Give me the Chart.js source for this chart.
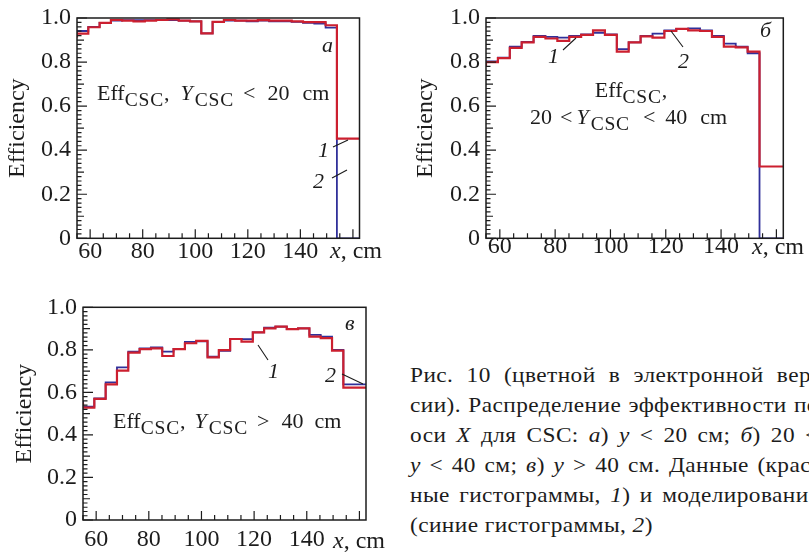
<!DOCTYPE html>
<html lang="ru">
<head>
<meta charset="UTF-8">
<title>Эффективность CSC</title>
<script src="https://cdn.jsdelivr.net/npm/chart.js"></script>
<style>
  body {
    margin: 0;
    width: 809px;
    height: 552px;
    overflow: hidden;
    position: relative;
    background: #fff;
    color: #1c1c1c;
    font-family: "Liberation Serif", "DejaVu Serif", serif;
  }
  canvas { position: absolute; }
  .note {
    position: absolute;
    font-size: 22px;
    line-height: 22px;
    white-space: nowrap;
  }
  .note sub {
    font-size: 19.5px;
    letter-spacing: 0.8px;
    vertical-align: baseline;
    position: relative;
    top: 6px;
  }
  .sp { display: inline-block; }
  .axt { font-size: 24px; line-height: 24px; }
  .caption {
    position: absolute;
    left: 410px;
    top: 360px;
    font-size: 22px;
    line-height: 30px;
    letter-spacing: 0.4px;
    white-space: nowrap;
    transform: scaleX(1.06);
    transform-origin: 0 0;
  }
</style>
</head>
<body>
<canvas id="panelA" width="400" height="270" style="left:0;top:0"></canvas>
<canvas id="panelB" width="409" height="270" style="left:400px;top:0"></canvas>
<canvas id="panelC" width="400" height="272" style="left:0;top:280px"></canvas>

<!-- panel a -->
<div class="note" style="left:97px;top:82px">Eff<sub>CSC</sub>,<span class="sp" style="width:11px"></span><i>Y</i><span class="sp" style="width:2px"></span><sub>CSC</sub><span class="sp" style="width:9px"></span>&lt;<span class="sp" style="width:12px"></span>20<span class="sp" style="width:13px"></span>cm</div>
<div class="note" style="left:322px;top:34px"><i>а</i></div>
<div class="note" style="left:318px;top:139px"><i>1</i></div>
<div class="note" style="left:313px;top:170px"><i>2</i></div>
<div class="note axt" style="left:330px;top:238px"><i>x</i>, cm</div>

<!-- panel b -->
<div class="note" style="left:631px;top:79px;transform:translateX(-50%)">Eff<sub>CSC</sub>,</div>
<div class="note" style="left:530px;top:106px">20<span class="sp" style="width:8px"></span>&lt;<span class="sp" style="width:4px"></span><i>Y</i><span class="sp" style="width:2px"></span><sub>CSC</sub><span class="sp" style="width:13px"></span>&lt;<span class="sp" style="width:10px"></span>40<span class="sp" style="width:13px"></span>cm</div>
<div class="note" style="left:760px;top:19px"><i>б</i></div>
<div class="note" style="left:548px;top:45px"><i>1</i></div>
<div class="note" style="left:678px;top:50px"><i>2</i></div>
<div class="note axt" style="left:752px;top:234px"><i>x</i>, cm</div>

<!-- panel c -->
<div class="note" style="left:113px;top:410px">Eff<sub>CSC</sub>,<span class="sp" style="width:9px"></span><i>Y</i><span class="sp" style="width:2px"></span><sub>CSC</sub><span class="sp" style="width:9px"></span>&gt;<span class="sp" style="width:12px"></span>40<span class="sp" style="width:11px"></span>cm</div>
<div class="note" style="left:345px;top:312px"><i>в</i></div>
<div class="note" style="left:268px;top:360px"><i>1</i></div>
<div class="note" style="left:325px;top:364px"><i>2</i></div>
<div class="note axt" style="left:333px;top:528px"><i>x</i>, cm</div>

<div class="caption">
  <div class="j"><span>Рис. 10 (цветной в электронной вер-</span></div>
  <div class="j"><span>сии). Распределение эффективности по</span></div>
  <div class="j"><span>оси <i>X</i> для CSC: <i>а</i>) <i>y</i> &lt; 20 см; <i>б</i>) 20 &lt;</span></div>
  <div class="j"><span><i>y</i> &lt; 40 см; <i>в</i>) <i>y</i> &gt; 40 см. Данные (крас-</span></div>
  <div class="j"><span>ные гистограммы, <i>1</i>) и моделирование</span></div>
  <div><span>(синие гистограммы, <i>2</i>)</span></div>
</div>

<script>
// bin edges along x, cm (25 bins)
const binEdges = [55, 59.3, 63.6, 67.9, 72.2, 76.5, 80.8, 85.1, 89.4, 93.7, 98, 102.3, 106.6,
  110.9, 115.2, 119.5, 123.8, 128.1, 132.4, 136.7, 141, 145.3, 149.6, 153.9, 158.2, 162.5];
const xTicks = [60, 80, 100, 120, 140];
const yTicks = [0, 0.2, 0.4, 0.6, 0.8, 1.0];

// а) Y < 20 cm
const dataA = [0.911, 0.929, 0.958, 0.978, 0.991, 0.988, 0.985, 0.988, 0.991, 0.994, 0.988, 0.985, 0.930,
  0.982, 0.991, 0.988, 0.988, 0.990, 0.988, 0.988, 0.985, 0.981, 0.981, 0.967, 0.452];
const simA = [0.921, 0.941, 0.960, 0.978, 0.988, 0.990, 0.990, 0.990, 0.991, 0.991, 0.988, 0.985, 0.930,
  0.981, 0.988, 0.988, 0.985, 0.988, 0.985, 0.985, 0.982, 0.978, 0.975, 0.956, 0.0];

// б) 20 < Y < 40 cm
const dataB = [0.778, 0.800, 0.818, 0.864, 0.889, 0.914, 0.907, 0.896, 0.914, 0.923, 0.944, 0.923, 0.847,
  0.889, 0.917, 0.911, 0.941, 0.951, 0.944, 0.941, 0.914, 0.870, 0.867, 0.847, 0.326];
const simB = [0.781, 0.803, 0.820, 0.870, 0.892, 0.919, 0.914, 0.911, 0.919, 0.926, 0.933, 0.926, 0.859,
  0.889, 0.919, 0.929, 0.944, 0.951, 0.953, 0.944, 0.919, 0.884, 0.870, 0.840, 0.0];

// в) Y > 40 cm
const dataC = [0.553, 0.528, 0.569, 0.638, 0.702, 0.787, 0.803, 0.807, 0.771, 0.803, 0.831, 0.842, 0.765,
  0.799, 0.851, 0.839, 0.882, 0.901, 0.909, 0.897, 0.901, 0.862, 0.855, 0.796, 0.622];
const simC = [0.561, 0.533, 0.572, 0.647, 0.718, 0.792, 0.807, 0.812, 0.792, 0.805, 0.837, 0.840, 0.768,
  0.795, 0.851, 0.850, 0.882, 0.904, 0.909, 0.897, 0.901, 0.870, 0.862, 0.800, 0.638];

const RED = '#cc1f2f';
const BLUE = '#30309a';
const INK = '#1c1c1c';
const tickFont = { family: '"Liberation Serif", "DejaVu Serif", serif', size: 24, lineHeight: 1 };

// histogram as step line: one point per bin low edge + closing point
function steps(vals) {
  const pts = vals.map((v, i) => ({ x: binEdges[i], y: v }));
  pts.push({ x: binEdges[binEdges.length - 1], y: vals[vals.length - 1] });
  return pts;
}

// frame around plot + inward ticks (ROOT style) + leader lines for labels 1, 2
const framePlugin = {
  id: 'frame',
  afterDraw(chart, args, opts) {
    const { ctx, chartArea: a, scales: { x, y } } = chart;
    ctx.save();
    ctx.strokeStyle = INK;
    ctx.lineWidth = 1.2;
    ctx.beginPath();
    for (let v = 55; v <= 160; v += 5) {
      const px = x.getPixelForValue(v);
      const len = v % 20 === 0 ? 9 : 5;
      ctx.moveTo(px, a.bottom);
      ctx.lineTo(px, a.bottom - len);
    }
    for (let k = 0; k <= 50; k++) {
      const py = y.getPixelForValue(k / 50);
      const len = k % 10 === 0 ? 10 : (k % 5 === 0 ? 7 : 4.5);
      ctx.moveTo(a.left, py);
      ctx.lineTo(a.left + len, py);
    }
    ctx.stroke();
    ctx.lineWidth = 1.5;
    ctx.strokeRect(a.left, a.top, a.right - a.left, a.bottom - a.top);
    ctx.lineWidth = 1.1;
    ctx.beginPath();
    (opts.leaders || []).forEach(l => {
      ctx.moveTo(l[0], l[1]);
      ctx.lineTo(l[2], l[3]);
    });
    ctx.stroke();
    ctx.restore();
  }
};

function makePanel(id, red, blue, box) {
  new Chart(document.getElementById(id), {
    type: 'line',
    data: {
      datasets: [
        { label: 'Данные', data: steps(red), borderColor: RED, borderWidth: 2.2,
          stepped: 'after', pointRadius: 0, fill: false },
        { label: 'Моделирование', data: steps(blue), borderColor: BLUE, borderWidth: 1.8,
          stepped: 'after', pointRadius: 0, fill: false }
      ]
    },
    options: {
      responsive: false,
      animation: false,
      layout: { padding: { top: box.top, right: box.right, left: 0, bottom: 0 } },
      plugins: {
        legend: { display: false },
        tooltip: { enabled: false },
        frame: { leaders: box.leaders }
      },
      scales: {
        x: {
          type: 'linear',
          min: 55,
          max: 162.5,
          grid: { display: false, drawTicks: false },
          border: { display: false },
          afterBuildTicks: s => { s.ticks = xTicks.map(v => ({ value: v })); },
          afterFit: s => { s.height = box.xh; },
          ticks: { font: tickFont, color: INK, padding: box.xpad, maxRotation: 0, autoSkip: false }
        },
        y: {
          min: 0,
          max: 1,
          grid: { display: false, drawTicks: false },
          border: { display: false },
          afterBuildTicks: s => { s.ticks = yTicks.map(v => ({ value: v })); },
          afterFit: s => { s.width = box.left; },
          ticks: {
            font: tickFont, color: INK, padding: 6,
            callback: v => v === 0 ? '0' : v.toFixed(1)
          },
          title: {
            display: true, text: 'Efficiency', color: INK,
            font: { family: tickFont.family, size: 24, lineHeight: 1.2 },
            padding: { top: box.tpad, bottom: 0 }
          }
        }
      }
    },
    plugins: [framePlugin]
  });
}

makePanel('panelA', dataA, simA, {
  left: 77, top: 13, right: 40.5, xh: 31.7, xpad: 1.5, tpad: 3,
  leaders: [[333, 147, 348, 140], [332, 178, 347, 170]]
});
makePanel('panelB', dataB, simB, {
  left: 86, top: 13, right: 25.7, xh: 31.7, xpad: -3.5, tpad: 11,
  leaders: [[163, 50, 176, 38], [271, 31, 283, 47]]
});
makePanel('panelC', dataC, simC, {
  left: 83, top: 27.3, right: 34, xh: 32, xpad: 8, tpad: 10,
  leaders: [[258, 65, 268, 80], [342, 94, 363, 104]]
});

// justify caption lines to the column width (text runs past the right edge like the scan);
// the caption box is stretched by scaleX, so measure in unscaled units
const CAP_SCALE = 1.06;
const CAP_W = 409 / CAP_SCALE;
document.querySelectorAll('.caption .j > span').forEach(span => {
  const natural = span.offsetWidth;
  const gaps = (span.textContent.match(/ /g) || []).length;
  if (gaps) span.style.wordSpacing = Math.max(0, (CAP_W - natural) / gaps) + 'px';
});
</script>
</body>
</html>
